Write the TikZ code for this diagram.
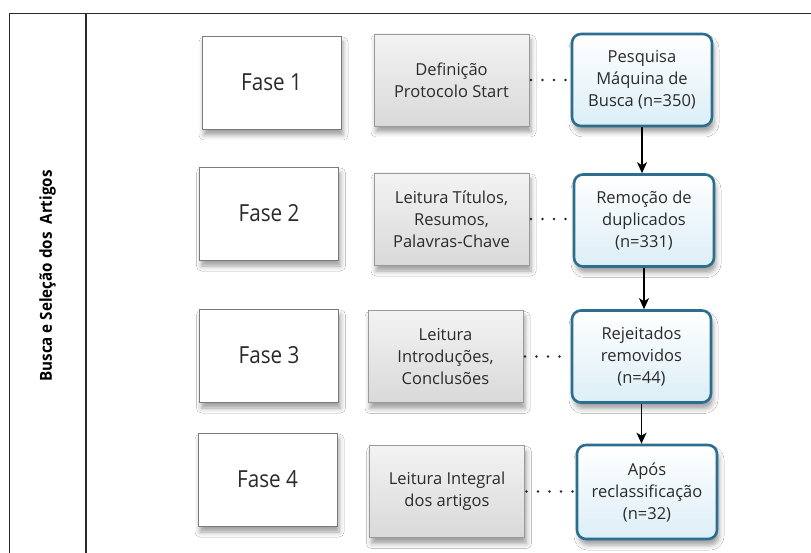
\documentclass[tikz,border=0pt]{standalone}
\usepackage{fontspec}
\setmainfont{Open Sans}
\newfontfamily\fasefont[FakeStretch=0.88]{Open Sans}
\newfontfamily\sidefont[FakeStretch=0.92]{Open Sans}
\usetikzlibrary{arrows.meta,shadows.blur}
\definecolor{txt}{HTML}{2B2B2B}
\definecolor{framec}{HTML}{2A2A2A}
\definecolor{fasebd}{HTML}{7A7A7A}
\definecolor{graybd}{HTML}{9A9A9A}
\definecolor{graytop}{HTML}{F3F3F3}
\definecolor{graybot}{HTML}{D9D9D9}
\definecolor{bluebd}{HTML}{2C6E90}
\definecolor{bluebot}{HTML}{DCEEF7}
\tikzset{
  frameline/.style={draw=framec, line width=1.4pt},
  softshadow/.style={blur shadow={shadow xshift=2pt, shadow yshift=-6pt, shadow blur radius=5pt, shadow opacity=38}},
  fasebox/.style={draw=fasebd, line width=0.9pt, fill=white, softshadow, minimum width=139pt, minimum height=93pt, inner sep=0pt, text=txt, font=\fasefont\fontsize{23.5}{28}\selectfont},
  graybox/.style={draw=graybd, line width=0.9pt, top color=graytop, bottom color=graybot, softshadow, minimum width=155pt, minimum height=92pt, inner sep=0pt, align=center, text=txt, font=\fontsize{16.5}{22}\selectfont},
  bluebox/.style={draw=bluebd, line width=2.6pt, rounded corners=9pt, top color=white, bottom color=bluebot, softshadow, minimum width=140pt, minimum height=92pt, inner sep=0pt, align=center, text=txt, font=\fontsize{16.5}{22}\selectfont},
  dotline/.style={draw=black!85, line width=2.8pt, line cap=round, dash pattern=on 0pt off 11.5pt, dash phase=10pt},
  flowarrow/.style={draw=black, line width=1.3pt, -{Stealth[length=11pt,width=10pt,inset=3pt]}},
  sidelabel/.style={rotate=90, font=\sidefont\fontsize{16.5}{20}\selectfont\bfseries, text=black}
}
\begin{document}
\begin{tikzpicture}[x=1pt,y=-1pt]
\useasboundingbox (0,0) rectangle (811,553);
\fill[white] (0,0) rectangle (811,553);
% frame
\coordinate (fbl) at (9.5,553);
\coordinate (ftl) at (9.5,13.5);
\coordinate (ftr) at (811,13.5);
\coordinate (dtop) at (86,13.5);
\coordinate (dbot) at (86,553);
\draw[frameline] (fbl) -- (ftl) -- (ftr);
\draw[frameline] (dtop) -- (dbot);
\node[sidelabel] (side) at (47.5,276) {Busca e Seleção dos\ \ Artigos};
% phase boxes
\node[fasebox] (f1) at (271.5,82.5) {Fase 1};
\node[fasebox] (f2) at (269,213.5) {Fase 2};
\node[fasebox] (f3) at (269,355.5) {Fase 3};
\node[fasebox] (f4) at (267.5,479.5) {Fase 4};
% gray boxes
\node[graybox] (g1) at (451.5,80) {Definição\\Protocolo Start};
\node[graybox] (g2) at (451.5,219) {Leitura Títulos,\\Resumos,\\Palavras-Chave};
\node[graybox] (g3) at (445.5,356.5) {Leitura\\Introduções,\\Conclusões};
\node[graybox] (g4) at (447,491.5) {Leitura Integral\\dos artigos};
% blue boxes
\node[bluebox] (b1) at (642,80) {Pesquisa\\Máquina de\\Busca (n=350)};
\node[bluebox] (b2) at (644,220.5) {Remoção de\\duplicados\\(n=331)};
\node[bluebox, minimum width=139pt] (b3) at (641.5,356.5) {Rejeitados\\removidos\\(n=44)};
\node[bluebox, minimum height=94pt] (b4) at (647,492) {Após\\reclassificação\\(n=32)};
% dotted links
\draw[dotline] (g1.east) -- (b1.west |- g1.east);
\draw[dotline] (g2.east) -- (b2.west |- g2.east);
\draw[dotline] (g3.east) -- (b3.west |- g3.east);
\draw[dotline] (g4.east) -- (b4.west |- g4.east);
% arrows
\draw[flowarrow] (b1.south) -- (b1.south |- b2.north);
\draw[flowarrow] (b2.south) -- (b2.south |- b3.north);
\draw[flowarrow] (b3.south) -- (b3.south |- b4.north);
\end{tikzpicture}
\end{document}
